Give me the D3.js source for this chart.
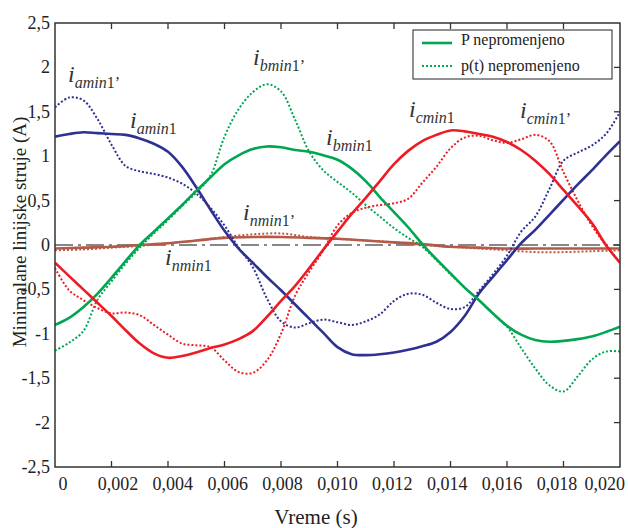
<!DOCTYPE html>
<html lang="sr">
<head>
    <meta charset="UTF-8">
    <title>Minimalne linijske struje</title>
    <script src="https://d3js.org/d3.v7.min.js"></script>
    <style>
        body { margin: 0; background: #fff; }
        svg { font-family: "Liberation Serif", "Times New Roman", serif; }
        .tick-label { font-size: 18px; fill: #222; }
        .axis-title { font-size: 19px; fill: #222; }
        .legend-text { font-size: 16px; fill: #222; }
        .ann { font-size: 24px; font-style: italic; fill: #333; }
    </style>
</head>
<body>
<div id="chart"></div>
<script>
// time samples (ms) for phase currents
const tMs = [0, 0.5, 1, 1.5, 2, 2.5, 3, 3.5, 4, 4.5, 5, 5.5, 6, 6.5, 7, 7.5, 8, 8.5, 9, 9.5,
             10, 10.5, 11, 11.5, 12, 12.5, 13, 13.5, 14, 14.5, 15, 15.5, 16, 16.5, 17, 17.5, 18, 18.5, 19, 19.5, 20];
// time samples (ms) for neutral current
const tMsN = [0, 1, 2, 3, 4, 5, 6, 7, 8, 9, 10, 11, 12, 13, 14, 15, 16, 17, 18, 19, 20];

// P nepromenjeno (solid)
const iaSolid = [1.22, 1.25, 1.27, 1.26, 1.25, 1.24, 1.20, 1.14, 1.05, 0.88, 0.65, 0.40, 0.16, -0.04, -0.20, -0.36, -0.51, -0.67, -0.83, -0.99,
                 -1.15, -1.23, -1.24, -1.23, -1.21, -1.18, -1.14, -1.09, -0.98, -0.80, -0.55, -0.36, -0.17, 0.02, 0.17, 0.34, 0.51, 0.68, 0.84, 1.01, 1.17];
const ibSolid = [-0.90, -0.82, -0.70, -0.55, -0.37, -0.18, 0.00, 0.15, 0.30, 0.45, 0.61, 0.76, 0.91, 1.01, 1.08, 1.11, 1.10, 1.07, 1.05, 1.01,
                 0.96, 0.86, 0.72, 0.54, 0.37, 0.20, 0.01, -0.16, -0.32, -0.48, -0.62, -0.77, -0.91, -1.01, -1.07, -1.09, -1.08, -1.06, -1.03, -0.98, -0.92];
const icSolid = [-0.20, -0.35, -0.50, -0.65, -0.80, -0.96, -1.11, -1.22, -1.27, -1.25, -1.21, -1.16, -1.12, -1.06, -0.97, -0.81, -0.63, -0.46, -0.26, -0.05,
                 0.15, 0.35, 0.53, 0.72, 0.91, 1.06, 1.17, 1.24, 1.29, 1.28, 1.25, 1.22, 1.16, 1.07, 0.95, 0.80, 0.62, 0.44, 0.25, 0.00, -0.20];
const inSolid = [-0.04, -0.03, -0.02, 0.00, 0.02, 0.05, 0.08, 0.09, 0.09, 0.08, 0.07, 0.05, 0.03, 0.01, -0.02, -0.03, -0.04, -0.04, -0.04, -0.04, -0.04];

// p(t) nepromenjeno (dotted)
const iaDot = [1.55, 1.66, 1.63, 1.42, 1.13, 0.89, 0.83, 0.80, 0.76, 0.69, 0.58, 0.42, 0.22, -0.03, -0.25, -0.60, -0.86, -0.93, -0.88, -0.84,
               -0.87, -0.90, -0.86, -0.78, -0.63, -0.55, -0.56, -0.65, -0.72, -0.70, -0.52, -0.33, -0.12, 0.15, 0.32, 0.63, 0.95, 1.04, 1.12, 1.25, 1.50];
const ibDot = [-1.19, -1.10, -0.97, -0.62, -0.41, -0.21, -0.03, 0.13, 0.28, 0.44, 0.59, 0.78, 1.22, 1.53, 1.72, 1.81, 1.73, 1.41, 1.05, 0.84,
               0.71, 0.59, 0.45, 0.32, 0.19, 0.08, -0.02, -0.17, -0.33, -0.48, -0.62, -0.77, -0.92, -1.16, -1.39, -1.58, -1.65, -1.48, -1.29, -1.20, -1.20];
const icDot = [-0.26, -0.51, -0.62, -0.71, -0.77, -0.76, -0.79, -0.90, -1.01, -1.11, -1.13, -1.15, -1.30, -1.43, -1.44, -1.30, -1.00, -0.57, -0.30, -0.06,
               0.22, 0.36, 0.42, 0.45, 0.47, 0.52, 0.70, 0.88, 1.09, 1.21, 1.23, 1.18, 1.15, 1.19, 1.24, 1.17, 0.82, 0.50, 0.22, 0.00, -0.20];
const inDot = [-0.06, -0.05, -0.03, -0.01, 0.02, 0.05, 0.09, 0.12, 0.13, 0.09, 0.07, 0.05, 0.03, 0.00, -0.02, -0.04, -0.06, -0.08, -0.08, -0.07, -0.06];

const xTicks = [0, 0.002, 0.004, 0.006, 0.008, 0.010, 0.012, 0.014, 0.016, 0.018, 0.020];
const xTickLabels = ["0", "0,002", "0,004", "0,006", "0,008", "0,010", "0,012", "0,014", "0,016", "0,018", "0,020"];
const yTicks = [-2.5, -2, -1.5, -1, -0.5, 0, 0.5, 1, 1.5, 2, 2.5];
const yTickLabels = ["-2,5", "-2", "-1,5", "-1", "-0,5", "0", "0,5", "1", "1,5", "2", "2,5"];

// annotation labels: phase letter, primed or not, anchor position
const annotations = [
    { sub: "amin", prime: true,  x: 68,  y: 82 },
    { sub: "amin", prime: false, x: 130, y: 128 },
    { sub: "bmin", prime: true,  x: 253, y: 65 },
    { sub: "bmin", prime: false, x: 326, y: 145 },
    { sub: "cmin", prime: false, x: 409, y: 117 },
    { sub: "cmin", prime: true,  x: 520, y: 118 },
    { sub: "nmin", prime: true,  x: 243, y: 220 },
    { sub: "nmin", prime: false, x: 165, y: 265 }
];

const W = 628, H = 528;
const mLeft = 55, mRight = 620, mTop = 23, mBottom = 467;

const svg = d3.select("#chart").append("svg")
    .attr("width", W).attr("height", H);

const x = d3.scaleLinear().domain([0, 0.020]).range([mLeft, mRight]);
const y = d3.scaleLinear().domain([-2.5, 2.5]).range([mBottom, mTop]);
// tick labels sit on a slightly narrower span than the ticks themselves
const xLabel = d3.scaleLinear().domain([0, 0.018]).range([63, 557]);

svg.append("clipPath").attr("id", "plot-clip")
    .append("rect").attr("x", mLeft).attr("y", mTop)
    .attr("width", mRight - mLeft).attr("height", mBottom - mTop);

const plot = svg.append("g").attr("clip-path", "url(#plot-clip)");

// zero reference line (dash-dot)
plot.append("line")
    .attr("x1", mLeft).attr("x2", mRight)
    .attr("y1", y(0)).attr("y2", y(0))
    .attr("stroke", "#111").attr("stroke-width", 1.2)
    .attr("stroke-dasharray", "18,5,3,5");

const line = d3.line()
    .x(d => x(d[0] / 1000))
    .y(d => y(d[1]))
    .curve(d3.curveCatmullRom.alpha(0.5));

const series = [
    { t: tMsN, v: inSolid, color: "#B45A46", dot: false },
    { t: tMsN, v: inDot,   color: "#B45A46", dot: true },
    { t: tMs,  v: iaDot,   color: "#2E3192", dot: true },
    { t: tMs,  v: ibDot,   color: "#00A651", dot: true },
    { t: tMs,  v: icDot,   color: "#ED1C24", dot: true },
    { t: tMs,  v: iaSolid, color: "#2E3192", dot: false },
    { t: tMs,  v: ibSolid, color: "#00A651", dot: false },
    { t: tMs,  v: icSolid, color: "#ED1C24", dot: false }
];

series.forEach(s => {
    plot.append("path")
        .datum(s.t.map((t, i) => [t, s.v[i]]))
        .attr("fill", "none")
        .attr("stroke", s.color)
        .attr("stroke-width", s.dot ? 2 : 2.6)
        .attr("stroke-dasharray", s.dot ? "2,2" : null)
        .attr("d", line);
});

// frame
svg.append("rect")
    .attr("x", mLeft).attr("y", mTop)
    .attr("width", mRight - mLeft).attr("height", mBottom - mTop)
    .attr("fill", "none").attr("stroke", "#333").attr("stroke-width", 1.5);

// inward ticks: top and bottom
const tickLen = 6;
xTicks.slice(1, -1).forEach(t => {
    svg.append("line").attr("x1", x(t)).attr("x2", x(t))
        .attr("y1", mTop).attr("y2", mTop + tickLen)
        .attr("stroke", "#333").attr("stroke-width", 1.3);
    svg.append("line").attr("x1", x(t)).attr("x2", x(t))
        .attr("y1", mBottom).attr("y2", mBottom - tickLen)
        .attr("stroke", "#333").attr("stroke-width", 1.3);
});
// inward ticks: right
yTicks.slice(1, -1).forEach(v => {
    svg.append("line").attr("x1", mRight).attr("x2", mRight - tickLen)
        .attr("y1", y(v)).attr("y2", y(v))
        .attr("stroke", "#333").attr("stroke-width", 1.3);
});

// x tick labels
const lastI = xTicks.length - 1;
svg.selectAll(".xl").data(xTicks).enter().append("text")
    .attr("class", "tick-label")
    .attr("x", (d, i) => i === lastI ? 625 : xLabel(d))
    .attr("y", 490)
    .attr("text-anchor", (d, i) => i === lastI ? "end" : "middle")
    .text((d, i) => xTickLabels[i]);

// y tick labels
svg.selectAll(".yl").data(yTicks).enter().append("text")
    .attr("class", "tick-label")
    .attr("x", mLeft - 5)
    .attr("y", d => y(d) + 6)
    .attr("text-anchor", "end")
    .text((d, i) => yTickLabels[i]);

// axis titles
svg.append("text")
    .attr("class", "axis-title")
    .attr("transform", "translate(26, 232) rotate(-90)")
    .attr("text-anchor", "middle")
    .text("Minimalane linijske struje (A)");

svg.append("text")
    .attr("class", "axis-title")
    .style("font-size", "21px")
    .attr("x", 316).attr("y", 524)
    .attr("text-anchor", "middle")
    .text("Vreme (s)");

// curve annotations
annotations.forEach(a => {
    const txt = svg.append("text").attr("class", "ann").attr("x", a.x).attr("y", a.y);
    txt.append("tspan").text("i");
    txt.append("tspan").attr("dy", 6).style("font-size", "16px").text(a.sub);
    txt.append("tspan").style("font-size", "16px").style("font-style", "normal")
        .text(a.prime ? "1\u2019" : "1");
});

// legend
const lg = svg.append("g");
lg.append("rect")
    .attr("x", 413).attr("y", 30).attr("width", 199).attr("height", 49)
    .attr("fill", "#fff").attr("stroke", "#222").attr("stroke-width", 1);
lg.append("line").attr("x1", 422).attr("x2", 452).attr("y1", 43).attr("y2", 43)
    .attr("stroke", "#00A651").attr("stroke-width", 2.6);
lg.append("line").attr("x1", 422).attr("x2", 452).attr("y1", 66).attr("y2", 66)
    .attr("stroke", "#00A651").attr("stroke-width", 2.2).attr("stroke-dasharray", "2,2");
lg.append("text").attr("class", "legend-text").attr("x", 461).attr("y", 45).text("P nepromenjeno");
lg.append("text").attr("class", "legend-text").attr("x", 461).attr("y", 71).text("p(t) nepromenjeno");
</script>
</body>
</html>
